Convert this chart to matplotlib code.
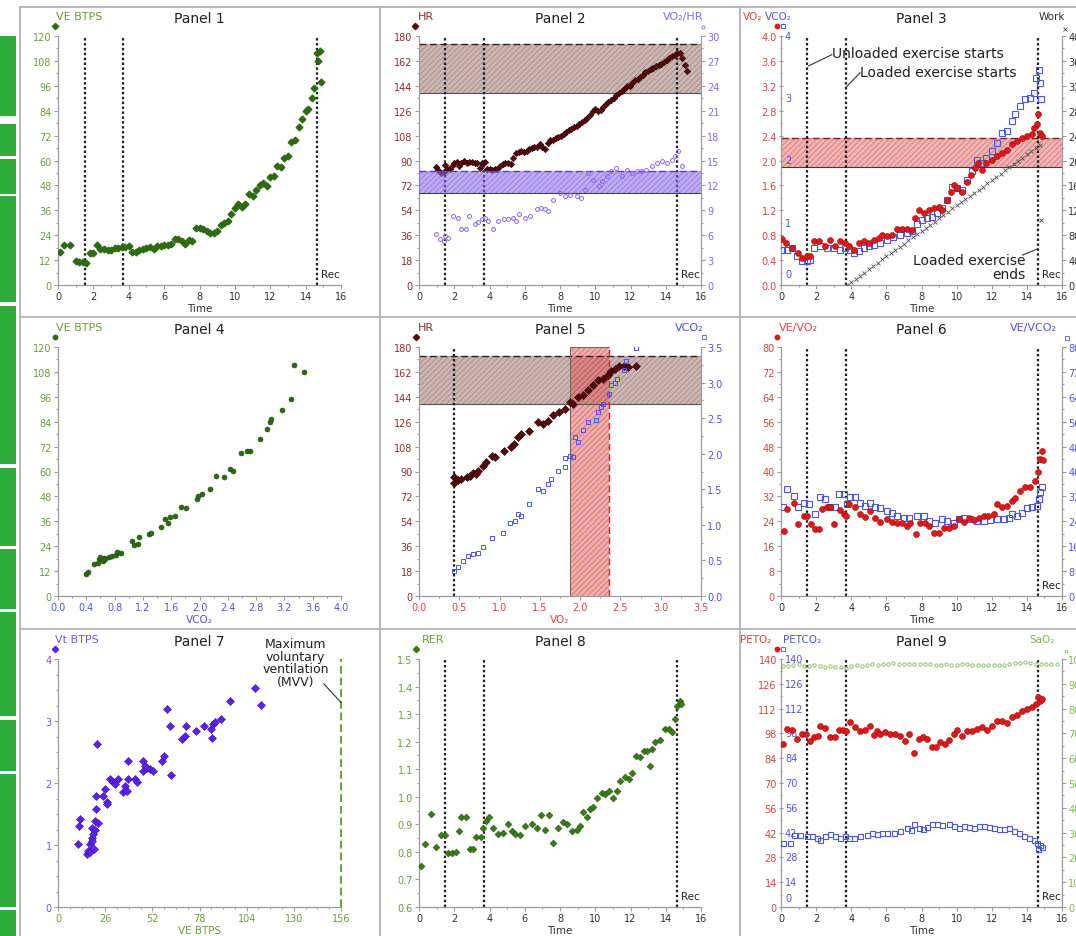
import matplotlib
matplotlib.use('Agg')
import matplotlib.pyplot as plt
import matplotlib.transforms as mtrans
from matplotlib.ticker import MultipleLocator, AutoMinorLocator
from matplotlib.lines import Line2D
from matplotlib.patches import Rectangle

plt.rcParams['font.family'] = ['DejaVu Sans']
plt.rcParams['hatch.linewidth'] = 0.35

# ------------------------------------------------------------------ data
EVENTS = [1.5, 3.7, 14.65]          # unloaded start, loaded start, recovery
P5_VLINE = 0.43

# Panel 1: VE vs time
p1_t = [0.1, 0.35, 0.7, 1.0, 1.2, 1.4, 1.6, 1.8, 2.0, 2.2,
        2.4, 2.6, 2.8, 3.0, 3.2, 3.4, 3.6, 3.8, 4.0, 4.2,
        4.4, 4.6, 4.8, 5.0, 5.2, 5.4, 5.6, 5.8, 6.0, 6.2,
        6.4, 6.6, 6.8, 7.0, 7.2, 7.4, 7.6, 7.8, 8.0, 8.2,
        8.4, 8.6, 8.8, 9.0, 9.2, 9.4, 9.6, 9.8, 10.0, 10.2,
        10.4, 10.6, 10.8, 11.0, 11.2, 11.4, 11.6, 11.8, 12.0, 12.2,
        12.4, 12.6, 12.8, 13.0, 13.2, 13.4, 13.6, 13.8, 14.0, 14.15,
        14.35, 14.5, 14.65, 14.7, 14.8, 14.85]
p1_ve = [16, 19.5, 19.5, 11.5, 11, 11, 10.5, 15.5, 15.5, 19.5,
         17.5, 17.5, 17, 17, 18, 18, 18.5, 18.5, 19, 16,
         16, 17, 17.5, 18, 18.5, 17.5, 19, 19, 19.5, 19.5,
         20, 22, 22, 21, 20, 21.5, 21, 27.5, 27.5, 27,
         26, 25, 25, 26, 29, 30, 31, 34, 37, 39,
         37.5, 39, 44, 43, 46, 48, 49, 47.5, 52, 52.5,
         57.5, 57, 61, 62, 69, 70, 76, 80, 84, 85,
         90, 95, 112, 108, 113, 98]

# Panel 2: HR and VO2/HR vs time
p2_t = [0.95, 1.1, 1.27, 1.4, 1.5, 1.6, 1.75, 1.9, 2.0, 2.15,
        2.25, 2.4, 2.55, 2.7, 2.85, 3.0, 3.15, 3.3, 3.45, 3.6,
        3.72, 3.85, 4.0, 4.15, 4.3, 4.45, 4.6, 4.75, 4.9, 5.05,
        5.2, 5.35, 5.5, 5.65, 5.8, 5.95, 6.1, 6.25, 6.4, 6.55,
        6.7, 6.85, 7.0, 7.15, 7.3, 7.45, 7.6, 7.75, 7.9, 8.05,
        8.2, 8.35, 8.5, 8.65, 8.8, 8.95, 9.1, 9.25, 9.4, 9.55,
        9.7, 9.85, 10.0, 10.15, 10.3, 10.45, 10.6, 10.75, 10.9, 11.05,
        11.2, 11.35, 11.5, 11.65, 11.8, 11.95, 12.1, 12.25, 12.4, 12.55,
        12.7, 12.85, 13.0, 13.15, 13.3, 13.45, 13.6, 13.75, 13.9, 14.05,
        14.2, 14.35, 14.5, 14.65, 14.8, 14.95, 15.1, 15.2]
p2_hr = [85, 83, 81, 82, 87, 84, 83.5, 86, 88, 89,
         86, 88.5, 89.5, 88.5, 89, 89, 88.5, 88, 84.5, 88,
         89, 84, 83.5, 83, 83.5, 84, 86, 87.5, 88, 88,
         87.5, 92, 95.5, 96, 97, 96.5, 97, 98, 99, 100,
         100, 102, 100, 98, 103, 104.5, 105, 106, 107, 108,
         109.5, 110.5, 112, 113, 114, 115, 116.5, 118, 119.5, 121,
         123, 126, 127, 126, 126.5, 129, 131, 132.5, 134, 135.5,
         137, 138.5, 140, 142, 143.5, 144, 146, 148, 149, 150.5,
         152, 154, 155, 156.5, 157, 158, 159, 160, 161.5, 163,
         164, 165.5, 166.5, 168, 167.5, 164, 159, 155]
p2_t2 = [0.95, 1.2, 1.4, 1.5, 1.65, 1.93, 2.2, 2.4, 2.65, 2.85,
         3.15, 3.35, 3.55, 3.73, 3.9, 4.2, 4.5, 4.8, 5.06, 5.35,
         5.5, 5.7, 6.0, 6.3, 6.7, 6.9, 7.15, 7.3, 7.6, 8.0,
         8.3, 8.57, 8.95, 9.2, 9.4, 9.6, 9.9, 10.2, 10.4, 10.65,
         10.9, 11.2, 11.5, 11.8, 12.1, 12.35, 12.6, 12.9, 13.2, 13.5,
         13.8, 14.07, 14.35, 14.55, 14.7, 14.9]
p2_o2pulse = [6.1, 5.5, 5.3, 5.9, 5.7, 8.3, 8.1, 6.75, 6.75, 8.3,
              7.3, 7.55, 7.9, 8.1, 7.7, 6.7, 7.7, 7.9, 7.9, 8.1,
              7.7, 8.5, 8.1, 8.3, 9.1, 9.3, 9.1, 8.9, 10.3, 11.1,
              10.7, 10.9, 10.7, 10.5, 11.5, 13.5, 12.7, 11.9, 12.5, 13.1,
              13.7, 14.1, 13.1, 13.9, 13.5, 13.7, 13.7, 13.9, 14.3, 14.7,
              14.9, 14.7, 15.1, 15.5, 16.1, 14.3]
HR_BAND = [138.8, 174.0]
O2PULSE_BAND = [11.1, 13.7]

# Panel 3: VO2, VCO2, Work vs time
p3_t = [0.05, 0.3, 0.63, 0.95, 1.2, 1.48, 1.67, 1.9, 2.14, 2.5,
        2.8, 3.1, 3.38, 3.66, 3.85, 4.14, 4.42, 4.7, 5.0, 5.27,
        5.56, 5.75, 6.03, 6.3, 6.6, 6.9, 7.17, 7.46, 7.65, 7.84,
        8.12, 8.4, 8.7, 8.98, 9.17, 9.45, 9.68, 9.83, 10.0, 10.3,
        10.6, 10.8, 11.06, 11.2, 11.44, 11.7, 12.0, 12.3, 12.58, 12.87,
        13.15, 13.43, 13.7, 14.0, 14.3, 14.4, 14.57, 14.63, 14.76, 14.86]
p3_vo2 = [0.74, 0.67, 0.59, 0.51, 0.43, 0.46, 0.46, 0.71, 0.7, 0.62,
          0.72, 0.62, 0.7, 0.67, 0.62, 0.56, 0.67, 0.7, 0.67, 0.72,
          0.75, 0.8, 0.79, 0.8, 0.9, 0.9, 0.9, 0.89, 1.07, 1.2,
          1.15, 1.2, 1.23, 1.26, 1.21, 1.37, 1.5, 1.61, 1.56, 1.5,
          1.66, 1.77, 1.88, 1.96, 1.85, 1.96, 2.01, 2.07, 2.12, 2.17,
          2.26, 2.31, 2.36, 2.39, 2.42, 2.52, 2.58, 2.74, 2.44, 2.39]
p3_t2 = [0.05, 0.34, 0.63, 0.9, 1.2, 1.48, 1.67, 1.86, 2.24, 2.6,
         3.0, 3.38, 3.66, 3.95, 4.14, 4.42, 4.7, 5.0, 5.27, 5.65,
         6.03, 6.4, 6.8, 7.17, 7.46, 7.74, 8.03, 8.3, 8.6, 8.88,
         9.17, 9.45, 9.73, 10.0, 10.3, 10.6, 10.87, 11.16, 11.44, 11.7,
         12.0, 12.3, 12.58, 12.87, 13.15, 13.34, 13.62, 13.9, 14.2, 14.38,
         14.53, 14.67, 14.72, 14.8]
p3_vco2 = [0.56, 0.57, 0.59, 0.46, 0.38, 0.38, 0.4, 0.59, 0.62, 0.59,
           0.59, 0.56, 0.59, 0.56, 0.51, 0.54, 0.59, 0.62, 0.64, 0.68,
           0.72, 0.77, 0.8, 0.83, 0.86, 0.98, 1.05, 1.07, 1.1, 1.15,
           1.23, 1.37, 1.58, 1.56, 1.53, 1.69, 1.83, 2.01, 1.96, 2.04,
           2.15, 2.28, 2.44, 2.47, 2.63, 2.74, 2.87, 2.98, 3.0, 3.09,
           3.33, 3.46, 3.25, 2.99]
work_t = [3.75, 4.0, 4.25, 4.5, 4.75, 5.0, 5.25, 5.5, 5.75, 6.0,
          6.25, 6.5, 6.75, 7.0, 7.25, 7.5, 7.75, 8.0, 8.25, 8.5,
          8.75, 9.0, 9.25, 9.5, 9.75, 10.0, 10.25, 10.5, 10.75, 11.0,
          11.25, 11.5, 11.75, 12.0, 12.25, 12.5, 12.75, 13.0, 13.25, 13.5,
          13.75, 14.0, 14.25, 14.5, 14.75, 14.8]
work_w = [0, 5, 10, 15, 20, 26, 31, 36, 41, 46,
          51, 56, 61, 66, 72, 77, 82, 87, 92, 97,
          102, 107, 112, 118, 123, 128, 133, 138, 143, 148,
          153, 158, 164, 169, 174, 179, 184, 189, 194, 199,
          204, 210, 215, 220, 225, 105]
VO2_BAND = [1.90, 2.36]

# Panel 4: VE vs VCO2
p4_vco2 = [0.4, 0.43, 0.51, 0.56, 0.58, 0.6, 0.63, 0.65, 0.67, 0.72,
           0.77, 0.82, 0.84, 0.89, 1.05, 1.08, 1.13, 1.15, 1.29, 1.32,
           1.46, 1.51, 1.55, 1.59, 1.65, 1.74, 1.81, 1.96, 1.98, 2.03,
           2.15, 2.24, 2.35, 2.43, 2.48, 2.58, 2.67, 2.71, 2.86, 2.95,
           2.99, 3.01, 3.17, 3.3, 3.34, 3.48]
p4_ve = [10.8, 11.6, 15.6, 16.1, 17.7, 18.8, 16.9, 18.5, 17.7, 18.8,
         19.3, 19.8, 21.4, 20.5, 26.6, 24.6, 25.3, 28.5, 29.8, 30.6,
         33.3, 37, 35.4, 37.9, 38.7, 43, 42.4, 46.7, 48.3, 49.1,
         51.5, 58, 57.5, 61.2, 60.4, 68.8, 69.7, 69.7, 75.7, 80.5,
         83.8, 85.4, 89.4, 94.7, 111.1, 107.9]

# Panel 5: HR and VCO2 vs VO2
p5_vo2 = [0.43, 0.44, 0.48, 0.52, 0.59, 0.63, 0.67, 0.71, 0.73, 0.79,
          0.83, 0.9, 0.94, 1.06, 1.14, 1.18, 1.23, 1.27, 1.37, 1.48,
          1.54, 1.6, 1.66, 1.74, 1.81, 1.87, 1.91, 1.97, 2.03, 2.1,
          2.16, 2.22, 2.28, 2.34, 2.38, 2.43, 2.48, 2.55, 2.59, 2.69]
p5_hr = [85.8, 82, 84, 84.6, 85.8, 87, 88.7, 88.2, 90.6, 94.2,
         96.6, 101.5, 100.3, 105, 107.5, 110, 114.8, 117.2, 119.6, 125.6,
         124.4, 126.8, 130.5, 132.9, 135.3, 140.1, 138.9, 143.8, 145, 148.6,
         152.2, 155.8, 157, 159.5, 162.6, 164.3, 166, 166.2, 165.5, 166]
p5_vo2b = [0.43, 0.48, 0.55, 0.61, 0.67, 0.73, 0.79, 0.9, 1.04, 1.13,
           1.19, 1.23, 1.27, 1.37, 1.48, 1.54, 1.6, 1.64, 1.72, 1.81,
           1.81, 1.87, 1.91, 1.93, 1.97, 2.03, 2.1, 2.2, 2.22, 2.26,
           2.28, 2.36, 2.38, 2.43, 2.46, 2.55, 2.57, 2.69]
p5_vco2 = [0.35, 0.41, 0.49, 0.56, 0.59, 0.6, 0.69, 0.82, 0.89, 1.03,
           1.06, 1.15, 1.13, 1.29, 1.5, 1.48, 1.57, 1.64, 1.76, 1.81,
           1.94, 1.97, 1.95, 2.23, 2.16, 2.33, 2.44, 2.47, 2.58, 2.65,
           2.7, 2.84, 2.96, 3.0, 3.05, 3.17, 3.31, 3.48]
HR_BAND5 = [138.8, 173.5]
VO2_BAND5 = [1.88, 2.36]

# Panel 6: VE/VO2 and VE/VCO2 vs time
p6_t = [0.15, 0.34, 0.72, 0.95, 1.29, 1.48, 1.7, 1.95, 2.14, 2.33,
        2.62, 2.8, 3.0, 3.38, 3.57, 3.72, 3.85, 4.23, 4.5, 4.8,
        5.08, 5.37, 5.65, 6.03, 6.32, 6.6, 6.9, 7.17, 7.36, 7.7,
        7.93, 8.2, 8.4, 8.7, 8.97, 9.26, 9.55, 9.83, 10.11, 10.4,
        10.68, 10.97, 11.25, 11.54, 11.8, 12.1, 12.3, 12.58, 12.87, 13.15,
        13.34, 13.62, 13.9, 14.2, 14.48, 14.63, 14.72, 14.86, 14.9]
p6_eqo2 = [21, 28, 30, 23, 25.8, 25.8, 23, 21.5, 21.5, 28,
           28.5, 28.5, 23, 27.6, 26.3, 25.8, 29.5, 28.5, 26.3, 25.4,
           27.4, 25.2, 23.9, 24.7, 23.9, 23.6, 23.3, 22.5, 23.6, 19.9,
           23.3, 23.6, 22.5, 20.4, 20.4, 22, 22, 22.5, 24.7, 23.9,
           25.2, 24.4, 25, 25.8, 25.8, 26.3, 29.7, 28.5, 29, 30.6,
           31.5, 33.8, 34.9, 34.9, 37, 39.7, 44, 46.7, 43.8]
p6_t2 = [0.1, 0.34, 0.72, 0.95, 1.29, 1.57, 1.95, 2.24, 2.52, 2.8,
         3.09, 3.28, 3.57, 3.76, 3.95, 4.23, 4.5, 4.8, 5.08, 5.37,
         5.65, 6.03, 6.32, 6.6, 6.98, 7.27, 7.74, 8.12, 8.4, 8.79,
         9.17, 9.45, 9.83, 10.11, 10.4, 10.78, 11.16, 11.54, 11.92, 12.3,
         12.68, 12.96, 13.15, 13.43, 13.72, 14.0, 14.3, 14.57, 14.67, 14.76,
         14.86]
p6_eqco2 = [28.5, 34.4, 32.2, 28.5, 30, 29.5, 26.5, 31.7, 31.1, 28.5,
            28.7, 32.7, 32.7, 29.5, 31.9, 31.9, 30, 29, 30, 28.5,
            28.2, 27.4, 26.8, 25.8, 25.2, 25, 25.8, 25.8, 24.2, 23.6,
            24.7, 24.2, 23.3, 24.7, 25.2, 24.7, 24.2, 24.2, 24.4, 24.7,
            24.7, 25, 26.3, 25.8, 26.8, 28.2, 28.7, 29, 31.1, 33.3,
            34.9]

# Panel 7: Vt vs VE
p7_ve = [11, 11.6, 12, 16, 16.6, 17.5, 17.9, 18.5, 18.5, 19,
         19.4, 19.8, 20.3, 20.3, 21.2, 21.2, 21.6, 22.2, 25, 25.8,
         26.8, 27.1, 28.6, 30.5, 31.3, 33.2, 36, 36.9, 37.8, 38.8,
         38.8, 42.5, 43.4, 46.7, 47.1, 48, 49, 50.8, 52.2, 57.2,
         58.2, 60, 61.5, 62.2, 68.3, 70.2, 70.7, 76.2, 80.7, 84.4,
         85, 85.5, 86.8, 89.9, 95, 108.4, 111.7]
p7_vt = [1.02, 1.31, 1.42, 0.85, 0.9, 0.88, 1.01, 1.12, 1.28, 1.07,
         1.17, 0.93, 1.25, 1.39, 1.58, 1.79, 2.63, 1.36, 1.79, 1.9,
         1.69, 1.66, 2.06, 2.01, 1.98, 2.06, 1.85, 1.95, 1.87, 2.06,
         2.35, 2.06, 2.02, 2.2, 2.36, 2.28, 2.25, 2.22, 2.2, 2.36,
         2.44, 3.19, 2.92, 2.13, 2.71, 2.76, 2.92, 2.84, 2.92, 2.87,
         2.73, 2.95, 2.99, 3.03, 3.33, 3.53, 3.26]
MVV = 156

# Panel 8: RER vs time
p8_t = [0.13, 0.32, 0.7, 0.99, 1.27, 1.46, 1.65, 1.9, 2.08, 2.27,
        2.4, 2.69, 2.88, 3.07, 3.26, 3.49, 3.64, 3.79, 3.98, 4.21,
        4.5, 4.78, 5.06, 5.25, 5.44, 5.73, 6.01, 6.39, 6.67, 6.9,
        7.15, 7.39, 7.62, 7.9, 8.19, 8.38, 8.66, 8.95, 9.14, 9.33,
        9.52, 9.71, 9.9, 10.09, 10.37, 10.56, 10.8, 11.03, 11.22, 11.41,
        11.7, 11.89, 12.08, 12.32, 12.55, 12.74, 12.93, 13.08, 13.21, 13.4,
        13.69, 13.97, 14.16, 14.35, 14.54, 14.63, 14.79, 14.88]
p8_rer = [0.749, 0.828, 0.939, 0.818, 0.862, 0.862, 0.797, 0.797, 0.80, 0.874,
          0.927, 0.927, 0.81, 0.81, 0.855, 0.855, 0.888, 0.912, 0.925, 0.886,
          0.866, 0.87, 0.903, 0.876, 0.866, 0.862, 0.894, 0.903, 0.886, 0.934,
          0.879, 0.934, 0.834, 0.888, 0.91, 0.9, 0.874, 0.879, 0.894, 0.943,
          0.927, 0.955, 0.963, 0.997, 1.015, 1.009, 1.021, 0.997, 1.021, 1.058,
          1.07, 1.064, 1.088, 1.149, 1.143, 1.167, 1.167, 1.113, 1.173, 1.197,
          1.206, 1.246, 1.246, 1.234, 1.282, 1.33, 1.348, 1.336]

# Panel 9: PETO2, PETCO2, SaO2 vs time
p9_t = [0.11, 0.34, 0.63, 0.91, 1.2, 1.44, 1.67, 1.9, 2.09, 2.24,
        2.52, 2.8, 3.09, 3.28, 3.53, 3.72, 3.95, 4.23, 4.52, 4.8,
        5.09, 5.28, 5.46, 5.65, 5.94, 6.22, 6.5, 6.79, 7.07, 7.27,
        7.59, 7.84, 8.08, 8.31, 8.6, 8.84, 9.07, 9.35, 9.55, 9.83,
        10.02, 10.3, 10.59, 10.87, 11.16, 11.44, 11.73, 12.01, 12.3, 12.58,
        12.87, 13.15, 13.43, 13.72, 14.0, 14.3, 14.54, 14.63, 14.76, 14.86]
p9_peto2 = [92, 100.4, 99.9, 94.8, 97.6, 97.6, 93.8, 95.7, 96.7, 102.3,
            101, 95.7, 95.7, 99.9, 99.9, 99.1, 104.2, 101.4, 99.5, 99.9,
            102.3, 97.2, 99.1, 97.6, 98.6, 97.6, 97.6, 96.7, 93.8, 97.6,
            87.2, 94.8, 95.7, 94.8, 90.4, 90.4, 93.4, 92, 94.2, 97.6,
            99.9, 96.7, 99.5, 99.5, 100.4, 101.4, 99.9, 102.3, 104.8, 105.1,
            103.6, 107.4, 108.5, 110.4, 111.7, 112.7, 114.6, 118.7, 116.4, 117.4]
p9_t2 = [0.11, 0.49, 0.72, 1.1, 1.48, 1.76, 2.05, 2.24, 2.52, 2.8,
         3.09, 3.38, 3.66, 3.85, 4.14, 4.52, 4.9, 5.18, 5.46, 5.75,
         6.03, 6.41, 6.79, 7.17, 7.4, 7.59, 7.84, 8.08, 8.31, 8.6,
         8.88, 9.17, 9.55, 9.83, 10.11, 10.4, 10.68, 10.97, 11.25, 11.54,
         11.82, 12.1, 12.39, 12.68, 12.96, 13.24, 13.53, 13.81, 14.1, 14.38,
         14.57, 14.63, 14.72, 14.86]
p9_petco2 = [36.4, 36.4, 40.7, 40.7, 40.1, 40.1, 39.2, 37.7, 40.1, 41.1,
             40.1, 39.2, 40.1, 39.2, 39.2, 40.1, 40.7, 41.5, 41.1, 41.5,
             42, 42, 43, 44.5, 43.3, 47.1, 44.5, 43.9, 45.2, 47.1,
             46.7, 46.4, 47.1, 45.8, 44.5, 45.8, 45.2, 44.8, 45.8, 45.8,
             45.2, 44.5, 43.9, 43.9, 44.8, 43, 41.5, 40.1, 39.2, 37.7,
             36.4, 32.6, 35, 33.9]
p9_t3 = [0.1, 0.4, 0.7, 1.0, 1.3, 1.6, 1.9, 2.2, 2.5, 2.8,
         3.1, 3.4, 3.7, 4.0, 4.3, 4.6, 4.9, 5.2, 5.5, 5.8,
         6.1, 6.4, 6.7, 7.0, 7.3, 7.6, 7.9, 8.2, 8.5, 8.8,
         9.1, 9.4, 9.7, 10.0, 10.3, 10.6, 10.9, 11.2, 11.5, 11.8,
         12.1, 12.4, 12.7, 13.0, 13.3, 13.6, 13.9, 14.2, 14.5, 14.8,
         15.1, 15.4, 15.7]
p9_sao2 = [97.0, 97.3, 97.6, 97.8, 97.3, 97.0, 97.6, 97.2, 96.8, 97.2,
           96.6, 96.9, 96.5, 97.2, 97.5, 97.0, 97.6, 97.8, 97.4, 97.9,
           98.0, 98.3, 98.1, 98.0, 98.0, 97.9, 98.0, 97.9, 98.0, 97.6,
           97.4, 97.8, 97.5, 97.6, 97.9, 98.0, 97.7, 97.6, 97.5, 97.5,
           97.6, 97.7, 97.7, 97.9, 98.2, 98.4, 98.6, 98.3, 98.0, 97.9,
           97.9, 98.0, 98.0]

# ------------------------------------------------------------------ style
AX = '#9c9c9c'
TXT = '#303030'
GRN_L = '#6b9c3a'
GRN_M = '#2e6a12'
DRED = '#560909'
DRED_L = '#8a2e2e'
LAV = '#8a68f0'
RED = '#d61c1c'
RED_L = '#d84444'
BLUE = '#4a58e8'
BLUE_L = '#5054e0'
PURP = '#5a22e8'
PURP_L = '#7a54e6'
SAO2C = '#80b658'
FRAME = '#b4b4b4'
BAR = '#2eab38'

W, H = 1076, 937
fig = plt.figure(figsize=(W / 100, H / 100), dpi=100)
fig.patch.set_facecolor('white')


def fline(x0, y0, x1, y1):
    fig.add_artist(Line2D([x0 / W, x1 / W], [1 - y0 / H, 1 - y1 / H],
                          transform=fig.transFigure, color=FRAME, lw=1.3))


for yy in (8, 318, 630):
    fline(20, yy, 1076, yy)
for xx in (20, 380, 740):
    fline(xx, 8, xx, 937)

for y0, y1 in [(37, 117), (125, 157), (160, 195), (197, 303), (307, 465),
               (469, 547), (550, 610), (613, 717), (721, 772), (775, 908), (911, 937)]:
    fig.add_artist(Rectangle((0, 1 - y1 / H), 16 / W, (y1 - y0) / H,
                             transform=fig.transFigure, color=BAR, lw=0))

COLS = [(58, 341), (419, 701), (781, 1062)]
ROWS = [(37, 286), (348, 597), (660, 908)]


def make_ax(c, r):
    x0, x1 = COLS[c]
    y0, y1 = ROWS[r]
    ax = fig.add_axes([x0 / W, 1 - y1 / H, (x1 - x0) / W, (y1 - y0) / H])
    ax.set_facecolor('none')
    for s in ('top', 'right'):
        ax.spines[s].set_visible(False)
    for s in ('left', 'bottom'):
        ax.spines[s].set_color(AX)
        ax.spines[s].set_linewidth(0.9)
    ax.tick_params(which='both', color=AX, width=0.8, labelsize=7, pad=1.5)
    ax.tick_params(which='major', length=3)
    ax.tick_params(which='minor', length=1.6)
    return ax


def setup(ax, xlim, xstep, ylim, ystep, xcol, ycol, xminor=2, yminor=2):
    ax.set_xlim(*xlim)
    ax.set_ylim(*ylim)
    ax.xaxis.set_major_locator(MultipleLocator(xstep))
    ax.yaxis.set_major_locator(MultipleLocator(ystep))
    ax.xaxis.set_minor_locator(AutoMinorLocator(xminor))
    ax.yaxis.set_minor_locator(AutoMinorLocator(yminor))
    ax.tick_params(axis='x', labelcolor=xcol)
    ax.tick_params(axis='y', labelcolor=ycol)


def right_axis(ax, ylim, ystep, col, yminor=2):
    a2 = ax.twinx()
    a2.set_facecolor('none')
    for s in ('top', 'left', 'bottom'):
        a2.spines[s].set_visible(False)
    a2.spines['right'].set_color(AX)
    a2.spines['right'].set_linewidth(0.9)
    a2.set_ylim(*ylim)
    a2.yaxis.set_major_locator(MultipleLocator(ystep))
    a2.yaxis.set_minor_locator(AutoMinorLocator(yminor))
    a2.tick_params(which='both', color=AX, width=0.8, labelsize=7, pad=1.5, labelcolor=col)
    a2.tick_params(which='major', length=3)
    a2.tick_params(which='minor', length=1.6)
    return a2


def off(ax, dx, dy):
    return mtrans.offset_copy(ax.transAxes, fig=fig, x=dx, y=dy, units='dots')


def head(ax, xf, dx, s, color, ha='left', dy=20, fs=8):
    ax.text(xf, 1, s, transform=off(ax, dx, dy), ha=ha, va='center',
            color=color, fontsize=fs)


def head_mark(ax, xf, dx, dy, **kw):
    ax.plot([xf], [1], transform=off(ax, dx, dy), clip_on=False, ls='none', **kw)


def title(ax, s):
    ax.text(0.5, 1, s, transform=off(ax, 0, 18), ha='center', va='center',
            fontsize=10, color='#202020')


def events(ax, ts):
    for t in ts:
        ax.axvline(t, color='#1e1e1e', ls=(0, (1.1, 1.1)), lw=1.6, zorder=2)


def rec(ax, xpos=14.85):
    ax.text(xpos, 0.045, 'Rec', transform=mtrans.blended_transform_factory(ax.transData, ax.transAxes),
            fontsize=7.5, ha='left', va='center', color='#222222')


def band(ax, lo, hi, fc, hatchc, topc, botc, alpha=0.55):
    ax.axhspan(lo, hi, facecolor=fc, alpha=alpha, lw=0, zorder=0.5)
    ax.axhspan(lo, hi, facecolor='none', edgecolor=hatchc, hatch='//////', lw=0, zorder=0.6)
    ax.axhline(hi, color=topc, ls=(0, (5, 2.5)), lw=1.0, zorder=0.7)
    ax.axhline(lo, color=botc, lw=0.8, zorder=0.7)


def inner_labels(ax, vals, poss, color):
    tr = mtrans.offset_copy(mtrans.blended_transform_factory(ax.transAxes, ax.transData),
                            fig=fig, x=4, y=0, units='dots')
    for v, p in zip(vals, poss):
        ax.text(0, p, v, transform=tr, ha='left', va='center', fontsize=7, color=color)


# ------------------------------------------------------------------ Panel 1
ax = make_ax(0, 0)
ax.plot(p1_t, p1_ve, 'D', ms=3.4, color=GRN_M, mec=GRN_M, zorder=3)
events(ax, EVENTS)
setup(ax, (0, 16), 2, (0, 120), 12, TXT, GRN_L)
ax.set_xlabel('Time', fontsize=7.5, labelpad=1, color=TXT)
title(ax, 'Panel 1')
head(ax, 0, -2, 'VE BTPS', GRN_L)
head_mark(ax, 0, -3, 10, marker='D', ms=3.2, color=GRN_M)
rec(ax)

# ------------------------------------------------------------------ Panel 2
ax = make_ax(1, 0)
band(ax, HR_BAND[0], HR_BAND[1], '#a27a75', '#8d6c68', '#3a1a1a', '#555555')
ax.plot(p2_t, p2_hr, 'D', ms=3.3, color=DRED, mec='#2a0000', mew=0.4, zorder=3)
events(ax, EVENTS)
setup(ax, (0, 16), 2, (0, 180), 18, TXT, DRED_L)
ax.set_xlabel('Time', fontsize=7.5, labelpad=1, color=TXT)
a2 = right_axis(ax, (0, 30), 3, LAV)
band(a2, O2PULSE_BAND[0], O2PULSE_BAND[1], '#8c68f2', '#7456d8', '#5538e0', '#444444', alpha=0.55)
a2.plot(p2_t2, p2_o2pulse, 'o', ms=2.8, mfc='none', mec=LAV, mew=0.7, zorder=3)
title(ax, 'Panel 2')
head(ax, 0, -1, 'HR', DRED_L)
head_mark(ax, 0, -4, 10, marker='D', ms=3.2, color=DRED)
head(ax, 1, 2, 'VO₂/HR', LAV, ha='right')
head_mark(ax, 1, 2, 9, marker='o', ms=2.2, mfc='none', mec=LAV, mew=0.6)
rec(ax)

# ------------------------------------------------------------------ Panel 3
ax = make_ax(2, 0)
band(ax, VO2_BAND[0], VO2_BAND[1], '#e76a6a', '#c85050', '#7a2020', '#553333', alpha=0.5)
events(ax, EVENTS)
ax.plot(p3_t2, p3_vco2, 's', ms=4, mfc='none', mec=BLUE, mew=0.8, zorder=3)
ax.plot(p3_t, p3_vo2, 'o', ms=4.3, color=RED, mec='#b00000', mew=0.4, zorder=4)
setup(ax, (0, 16), 2, (0, 4), 0.4, TXT, RED_L)
ax.tick_params(axis='y', which='both', direction='inout')
ax.set_xlabel('Time', fontsize=7.5, labelpad=1, color=TXT)
inner_labels(ax, ['0', '1', '2', '3', '4'], [0.17, 1.0, 2.0, 3.0, 4.0], BLUE_L)
a3 = right_axis(ax, (0, 400), 40, TXT)
a3.plot(work_t, work_w, 'x', ms=3, color='#4a4a4a', mew=0.6, zorder=3)
ax.text(2.9, 3.72, 'Unloaded exercise starts', fontsize=10, ha='left', va='center', color='#202020')
ax.plot([1.57, 2.9], [3.52, 3.7], color='#333333', lw=0.8)
ax.text(4.5, 3.42, 'Loaded exercise starts', fontsize=10, ha='left', va='center', color='#202020')
ax.plot([3.72, 4.5], [3.18, 3.41], color='#333333', lw=0.8)
ax.text(13.9, 0.29, 'Loaded exercise\nends', fontsize=10, ha='right', va='center',
        multialignment='right', linespacing=1.0, color='#202020')
ax.plot([13.75, 14.6], [0.48, 0.58], color='#333333', lw=0.8)
title(ax, 'Panel 3')
head(ax, 0, -38, 'VO₂', RED_L, fs=7.5)
head(ax, 0, -16, 'VCO₂', BLUE_L, fs=7.5)
head_mark(ax, 0, -4, 10, marker='o', ms=3.2, color=RED)
head_mark(ax, 0, 2, 10, marker='s', ms=3, mfc='none', mec=BLUE, mew=0.7)
head(ax, 1, 3, 'Work', TXT, ha='right', fs=7.5)
head_mark(ax, 1, 3, 7, marker='x', ms=2.8, color='#4a4a4a', mew=0.6)
rec(ax)

# ------------------------------------------------------------------ Panel 4
ax = make_ax(0, 1)
ax.plot(p4_vco2, p4_ve, 'o', ms=3.6, color=GRN_M, mec='#1f4a0c', mew=0.4, zorder=3)
setup(ax, (0, 4), 0.4, (0, 120), 12, BLUE_L, GRN_L)
ax.set_xlabel('VCO₂', fontsize=7.5, labelpad=1, color=BLUE_L)
title(ax, 'Panel 4')
head(ax, 0, -2, 'VE BTPS', GRN_L)
head_mark(ax, 0, -3, 10, marker='o', ms=3.2, color=GRN_M)

# ------------------------------------------------------------------ Panel 5
ax = make_ax(1, 1)
ax.set_xlim(0, 3.5)
ax.set_ylim(0, 180)
band(ax, HR_BAND5[0], HR_BAND5[1], '#a27a75', '#8d6c68', '#3a1a1a', '#555555')
ax.axvspan(VO2_BAND5[0], VO2_BAND5[1], facecolor='#e65a5a', alpha=0.5, lw=0, zorder=0.55)
ax.axvspan(VO2_BAND5[0], VO2_BAND5[1], facecolor='none', edgecolor='#c04848', hatch='//////', lw=0, zorder=0.6)
ax.plot([VO2_BAND5[0], VO2_BAND5[0], VO2_BAND5[1]], [0, 180, 180], color='#6a6a6a', lw=0.8, zorder=0.8)
ax.plot([VO2_BAND5[1], VO2_BAND5[1]], [0, 180], color='#c03030', ls=(0, (5, 2.5)), lw=1.0, zorder=0.8)
ax.axvline(P5_VLINE, color='#1e1e1e', ls=(0, (1.1, 1.1)), lw=1.6, zorder=2)
ax.plot(p5_vo2, p5_hr, 'D', ms=3.6, color=DRED, mec='#2a0000', mew=0.4, zorder=3)
setup(ax, (0, 3.5), 0.5, (0, 180), 18, RED_L, DRED_L)
ax.set_xlabel('VO₂', fontsize=7.5, labelpad=1, color=RED_L)
a5 = right_axis(ax, (0, 3.5), 0.5, BLUE_L)
a5.plot(p5_vo2b, p5_vco2, 's', ms=3.4, mfc='none', mec=BLUE, mew=0.7, zorder=3)
title(ax, 'Panel 5')
head(ax, 0, -1, 'HR', DRED_L)
head_mark(ax, 0, -3, 10, marker='D', ms=3.2, color=DRED)
head(ax, 1, 3, 'VCO₂', BLUE_L, ha='right')
head_mark(ax, 1, 3, 10, marker='s', ms=2.4, mfc='none', mec=BLUE, mew=0.6)

# ------------------------------------------------------------------ Panel 6
ax = make_ax(2, 1)
events(ax, EVENTS)
ax.plot(p6_t2, p6_eqco2, 's', ms=4, mfc='none', mec=BLUE, mew=0.8, zorder=3)
ax.plot(p6_t, p6_eqo2, 'o', ms=4.3, color=RED, mec='#b00000', mew=0.4, zorder=4)
setup(ax, (0, 16), 2, (0, 80), 8, TXT, RED_L)
ax.set_xlabel('Time', fontsize=7.5, labelpad=1, color=TXT)
right_axis(ax, (0, 80), 8, BLUE_L)
title(ax, 'Panel 6')
head(ax, 0, -2, 'VE/VO₂', RED_L)
head_mark(ax, 0, -4, 10, marker='o', ms=3.2, color=RED)
head(ax, 1, -5, 'VE/VCO₂', BLUE_L, ha='right')
head_mark(ax, 1, 5, 9, marker='s', ms=2.4, mfc='none', mec=BLUE, mew=0.6)
rec(ax)

# ------------------------------------------------------------------ Panel 7
ax = make_ax(0, 2)
ax.plot(p7_ve, p7_vt, 'D', ms=3.6, color=PURP, mec='#3a10b0', mew=0.4, zorder=3)
ax.plot([MVV, MVV], [0, 4], color='#6aa03a', ls=(0, (4, 2)), lw=1.4, clip_on=False, zorder=2)
setup(ax, (0, 156), 26, (0, 4), 1, GRN_L, PURP_L, xminor=4, yminor=4)
ax.set_xlabel('VE BTPS', fontsize=7.5, labelpad=1, color=GRN_L)
ax.text(131, 3.94, 'Maximum\nvoluntary\nventilation\n(MVV)', fontsize=9, ha='center', va='center',
        linespacing=0.95, color='#202020', clip_on=False)
ax.plot([146.5, MVV], [3.6, 3.3], color='#333333', lw=0.8, clip_on=False)
title(ax, 'Panel 7')
head(ax, 0, -3, 'Vt BTPS', PURP_L)
head_mark(ax, 0, -3, 10, marker='D', ms=3.2, color=PURP)

# ------------------------------------------------------------------ Panel 8
ax = make_ax(1, 2)
ax.plot(p8_t, p8_rer, 'D', ms=3.5, color='#3a7a18', mec='#245010', mew=0.4, zorder=3)
events(ax, EVENTS)
setup(ax, (0, 16), 2, (0.6, 1.5), 0.1, TXT, GRN_L)
ax.set_xlabel('Time', fontsize=7.5, labelpad=1, color=TXT)
title(ax, 'Panel 8')
head(ax, 0, 3, 'RER', GRN_L)
head_mark(ax, 0, -3, 10, marker='D', ms=3.2, color='#3a7a18')
rec(ax)

# ------------------------------------------------------------------ Panel 9
ax = make_ax(2, 2)
events(ax, EVENTS)
ax.plot(p9_t2, p9_petco2, 's', ms=3.6, mfc='none', mec=BLUE, mew=0.8, zorder=3)
ax.plot(p9_t, p9_peto2, 'o', ms=4.3, color=RED, mec='#b00000', mew=0.4, zorder=4)
setup(ax, (0, 16), 2, (0, 140), 14, TXT, RED_L)
ax.tick_params(axis='y', which='both', direction='inout')
ax.set_xlabel('Time', fontsize=7.5, labelpad=1, color=TXT)
inner_labels(ax, ['0', '14', '28', '42', '56', '70', '84', '98', '112', '126', '140'],
             [5, 14, 28, 42, 56, 70, 84, 98, 112, 126, 140], BLUE_L)
a9 = right_axis(ax, (0, 100), 10, SAO2C)
a9.plot(p9_t3, p9_sao2, 'o', ms=2.4, mfc='none', mec=SAO2C, mew=0.6, zorder=3)
title(ax, 'Panel 9')
head(ax, 0, -41, 'PETO₂', RED_L, fs=7.5)
head(ax, 0, 2, 'PETCO₂', BLUE_L, fs=7.5)
head_mark(ax, 0, -4, 10, marker='o', ms=3.2, color=RED)
head_mark(ax, 0, 2, 10, marker='s', ms=2.6, mfc='none', mec=BLUE, mew=0.6)
head(ax, 1, -7, 'SaO₂', SAO2C, ha='right', fs=7.5)
head_mark(ax, 1, 4, 8, marker='o', ms=2, mfc='none', mec=SAO2C, mew=0.6)
rec(ax)

fig.savefig('out.png', dpi=100, facecolor='white')
